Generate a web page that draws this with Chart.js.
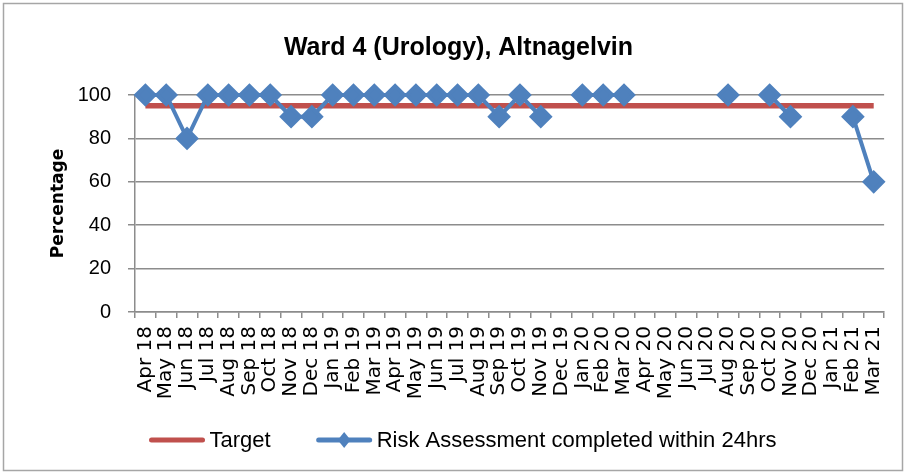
<!DOCTYPE html>
<html>
<head>
<meta charset="utf-8">
<script src="https://cdn.jsdelivr.net/npm/chart.js@4.4.1/dist/chart.umd.min.js"></script>
<style>
  html, body { margin: 0; padding: 0; background: #fff; }
</style>
</head>
<body>
<canvas id="wardChart" width="906" height="475"></canvas>
<script>
// Data
const months = [
    'Apr 18', 'May 18', 'Jun 18', 'Jul 18', 'Aug 18', 'Sep 18', 'Oct 18', 'Nov 18', 'Dec 18',
    'Jan 19', 'Feb 19', 'Mar 19', 'Apr 19', 'May 19', 'Jun 19', 'Jul 19', 'Aug 19', 'Sep 19',
    'Oct 19', 'Nov 19', 'Dec 19', 'Jan 20', 'Feb 20', 'Mar 20', 'Apr 20', 'May 20', 'Jun 20',
    'Jul 20', 'Aug 20', 'Sep 20', 'Oct 20', 'Nov 20', 'Dec 20', 'Jan 21', 'Feb 21', 'Mar 21'
];
const targetValues = [
    95, 95, 95, 95, 95, 95, 95, 95, 95, 95, 95, 95, 95, 95, 95, 95, 95, 95,
    95, 95, 95, 95, 95, 95, 95, 95, 95, 95, 95, 95, 95, 95, 95, 95, 95, 95
];
const riskValues = [
    100, 100, 80, 100, 100, 100, 100, 90, 90,
    100, 100, 100, 100, 100, 100, 100, 100, 90,
    100, 90, null, 100, 100, 100, null, null, null,
    null, 100, null, 100, 90, null, null, 90, 60
];
const yTicks = [0, 20, 40, 60, 80, 100];

const gridGrey = '#8c8c8c';
const red = '#C0504D';
const blue = '#4F81BD';

// outer frame round the whole chart
const framePlugin = {
    id: 'frame',
    beforeDraw(chart) {
        const ctx = chart.ctx;
        ctx.save();
        ctx.fillStyle = '#fff';
        ctx.fillRect(0, 0, chart.width, chart.height);
        ctx.strokeStyle = '#a6a6a6';
        ctx.lineWidth = 1.5;
        ctx.strokeRect(3.5, 3.5, chart.width - 7, chart.height - 8);
        ctx.restore();
    }
};

// legend drawn like the Excel one: line sample (with marker) + text
const legendPlugin = {
    id: 'excelLegend',
    afterDraw(chart) {
        const ctx = chart.ctx;
        const sample = 55, gap = 5, itemGap = 46;
        ctx.save();
        ctx.font = '22px "Liberation Sans", Arial, sans-serif';
        ctx.textBaseline = 'middle';
        const items = chart.data.datasets.map(ds => ({
            ds: ds,
            w: sample + gap + ctx.measureText(ds.label).width
        }));
        const total = items.reduce((s, it) => s + it.w, 0) + itemGap * (items.length - 1);
        let x = chart.width / 2 + 10 - total / 2;
        const y = 440;
        items.forEach(it => {
            ctx.strokeStyle = it.ds.borderColor;
            ctx.lineWidth = 5;
            ctx.lineCap = 'round';
            ctx.beginPath();
            ctx.moveTo(x + 2, y);
            ctx.lineTo(x + sample - 2, y);
            ctx.stroke();
            if (it.ds.pointRadius > 0) {
                const cx = x + sample / 2, r = 8;
                ctx.fillStyle = it.ds.borderColor;
                ctx.beginPath();
                ctx.moveTo(cx, y - r);
                ctx.lineTo(cx + r * 0.8, y);
                ctx.lineTo(cx, y + r);
                ctx.lineTo(cx - r * 0.8, y);
                ctx.closePath();
                ctx.fill();
            }
            ctx.fillStyle = '#000';
            ctx.fillText(it.ds.label, x + sample + gap, y + 1);
            x += it.w + itemGap;
        });
        ctx.restore();
    }
};

const ctx = document.getElementById('wardChart');

const myChart = new Chart(ctx, {
    type: 'line',
    data: {
        labels: months,
        datasets: [{
            label: 'Target',
            data: targetValues,
            borderColor: red,
            backgroundColor: red,
            borderWidth: 5.5,
            pointRadius: 0,
            pointHoverRadius: 0,
            order: 1
        }, {
            label: 'Risk Assessment completed within 24hrs',
            data: riskValues,
            borderColor: blue,
            backgroundColor: blue,
            borderWidth: 4,
            pointStyle: 'rectRot',
            pointRadius: 9,
            pointHoverRadius: 9,
            spanGaps: false,
            clip: false,
            order: 0
        }]
    },
    options: {
        responsive: false,
        animation: false,
        devicePixelRatio: 1,
        layout: {
            padding: { left: 32, right: 21, top: 0, bottom: 63 }
        },
        plugins: {
            legend: { display: false },
            tooltip: { enabled: false },
            title: {
                display: true,
                text: 'Ward 4 (Urology), Altnagelvin',
                color: '#000',
                font: { family: '"Liberation Sans", Arial, sans-serif', size: 25, weight: 'bold' },
                padding: { top: 33, bottom: 32 }
            }
        },
        scales: {
            x: {
                offset: true,
                grid: {
                    offset: true,
                    drawOnChartArea: false,
                    drawTicks: true,
                    tickLength: 6,
                    color: gridGrey,
                    lineWidth: 1.5
                },
                border: { display: true, color: gridGrey, width: 1.5 },
                ticks: {
                    autoSkip: false,
                    maxRotation: 90,
                    minRotation: 90,
                    padding: 8,
                    color: '#000',
                    font: { family: '"DejaVu Sans", sans-serif', size: 20 }
                },
                afterFit(scale) { scale.height = 100; }
            },
            y: {
                min: 0,
                max: 100,
                afterBuildTicks(scale) {
                    scale.ticks = yTicks.map(v => ({ value: v }));
                },
                grid: {
                    color: gridGrey,
                    lineWidth: 1.5,
                    tickLength: 7
                },
                border: { display: true, color: gridGrey, width: 1.5 },
                ticks: {
                    padding: 17,
                    color: '#000',
                    font: { family: '"Liberation Sans", Arial, sans-serif', size: 20 }
                },
                title: {
                    display: true,
                    text: 'Percentage',
                    color: '#000',
                    font: { family: '"DejaVu Sans", sans-serif', size: 17, weight: 'bold' },
                    padding: { top: 16, bottom: 0 }
                },
                afterFit(scale) { scale.width = 103; }
            }
        }
    },
    plugins: [framePlugin, legendPlugin]
});
</script>
</body>
</html>
